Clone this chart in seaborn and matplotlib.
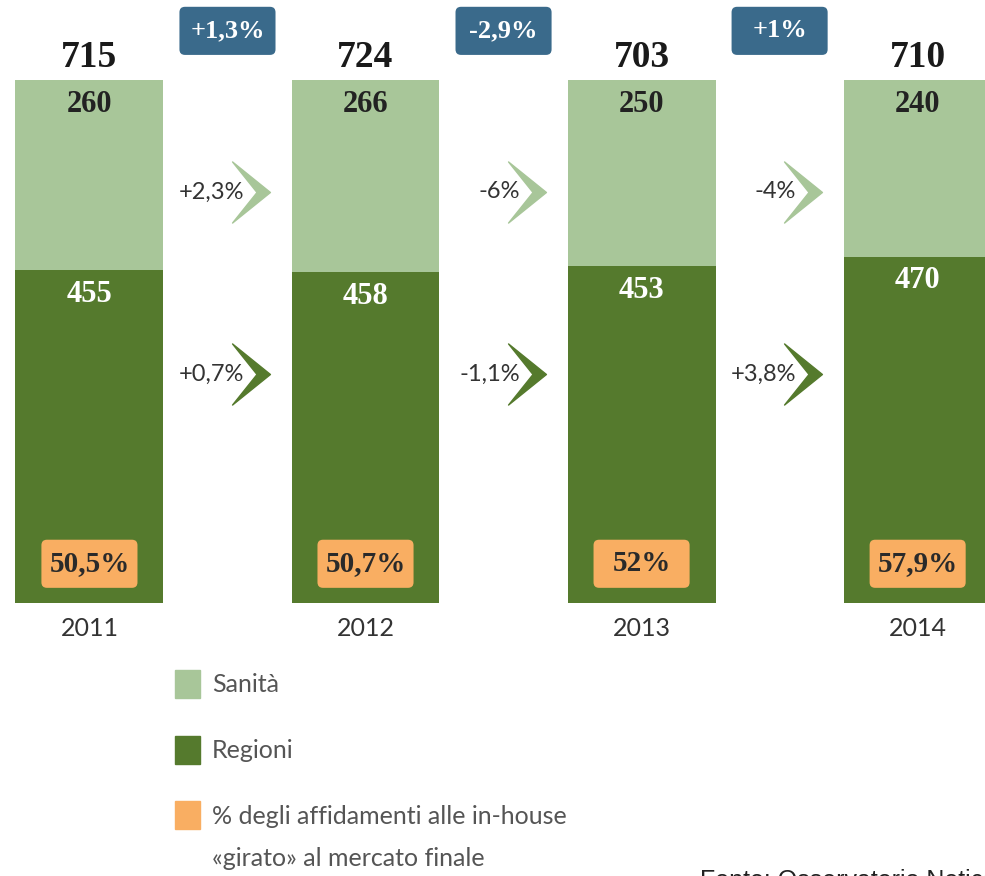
import numpy as np
import pandas as pd
import matplotlib
matplotlib.use("Agg")
import matplotlib.pyplot as plt
import seaborn as sns
from matplotlib.path import Path
from matplotlib.patches import Patch, FancyBboxPatch

# data
years = ["2011", "2012", "2013", "2014"]
sanita = [260, 266, 250, 240]
regioni = [455, 458, 453, 470]
totals = [715, 724, 703, 710]
inhouse = ["50,5%", "50,7%", "52%", "57,9%"]
total_change = ["+1,3%", "-2,9%", "+1%"]
sanita_change = ["+2,3%", "-6%", "-4%"]
regioni_change = ["+0,7%", "-1,1%", "+3,8%"]

light = "#a8c699"
dark = "#557a2d"
blue = "#3a6a8b"
orange = "#f9ae62"

df = pd.DataFrame({"year": years, "sanita": sanita, "regioni": regioni, "total": totals})
df["full"] = 1.0
df["reg_share"] = df["regioni"] / df["total"]

sns.set_style("white")
serif = ["Liberation Serif", "DejaVu Serif"]
sans = ["Lato", "DejaVu Sans"]

fig = plt.figure(figsize=(9.85, 8.76), dpi=100)
ax = fig.add_axes([0, 0, 1, 1])

# stacked bars, normalised to the same height
sns.barplot(data=df, x="year", y="full", color=light, saturation=1, width=0.536,
            linewidth=0, ax=ax)
sns.barplot(data=df, x="year", y="reg_share", color=dark, saturation=1, width=0.536,
            linewidth=0, ax=ax)

ax.set_xlim(-0.324, 3.244)
ax.set_ylim(-0.522, 1.153)
ax.axis("off")

bw, bh = 0.348, 0.092  # box size
for i, row in df.iterrows():
    ax.text(i, 1.044, str(row["total"]), ha="center", va="center", fontsize=27,
            fontweight="bold", family=serif, color="#1a1a1a")
    ax.text(i, 0.954, str(row["sanita"]), ha="center", va="center", fontsize=22,
            fontweight="bold", family=serif, color="#222222")
    ax.text(i, row["reg_share"] - 0.046, str(row["regioni"]), ha="center", va="center",
            fontsize=22, fontweight="bold", family=serif, color="white")
    ax.text(i, -0.048, row["year"], ha="center", va="center", fontsize=18,
            family=sans, color="#333333")
    # orange box with in-house share
    ax.add_patch(FancyBboxPatch((i - bw / 2, 0.075 - bh / 2), bw, bh,
                                boxstyle="round,pad=0,rounding_size=0.02",
                                mutation_aspect=276 / 523, fc=orange, ec="none"))
    ax.text(i, 0.075, inhouse[i], ha="center", va="center", fontsize=21,
            fontweight="bold", family=serif, color="#2a2a2a")

# chevron marker shape
chev = Path([(-0.31, 0.5), (0.31, 0.0), (-0.31, -0.5), (0.09, 0.0), (-0.31, 0.5)],
            [Path.MOVETO, Path.LINETO, Path.LINETO, Path.LINETO, Path.CLOSEPOLY])

for i in range(3):
    xm = i + 0.5
    ax.add_patch(FancyBboxPatch((xm - bw / 2, 1.094 - bh / 2), bw, bh,
                                boxstyle="round,pad=0,rounding_size=0.02",
                                mutation_aspect=276 / 523, fc=blue, ec="none"))
    ax.text(xm, 1.094, total_change[i], ha="center", va="center", fontsize=19,
            fontweight="bold", family=serif, color="white")
    xc = i + 0.585
    ax.plot([xc], [0.786], marker=chev, markersize=44, color=light, linestyle="none")
    ax.plot([xc], [0.438], marker=chev, markersize=44, color=dark, linestyle="none")
    ax.text(xc - 0.025, 0.786, sanita_change[i], ha="right", va="center", fontsize=17,
            family=sans, color="#333333")
    ax.text(xc - 0.025, 0.438, regioni_change[i], ha="right", va="center", fontsize=17,
            family=sans, color="#333333")

handles = [Patch(color=light), Patch(color=dark), Patch(color=orange)]
labels = ["Sanità", "Regioni", "% degli affidamenti alle in-house"]
leg = fig.legend(handles, labels, loc="upper left", bbox_to_anchor=(175 / 985, 1 - 670 / 876),
                 frameon=False, prop={"family": sans, "size": 18}, handlelength=1.0,
                 handleheight=1.35, labelspacing=1.5, handletextpad=0.48,
                 borderaxespad=0, borderpad=0)
for t in leg.get_texts():
    t.set_color("#555555")
fig.text(212 / 985, 1 - 858 / 876, "«girato» al mercato finale", ha="left", va="center",
         fontsize=18, family=sans, color="#555555")

fig.text(700 / 985, 1 - 869 / 876, "Fonte: Osservatorio Netics", ha="left", va="top",
         fontsize=18, family=["Liberation Sans", "DejaVu Sans"], color="#222222")

fig.savefig("out.png", dpi=100)
